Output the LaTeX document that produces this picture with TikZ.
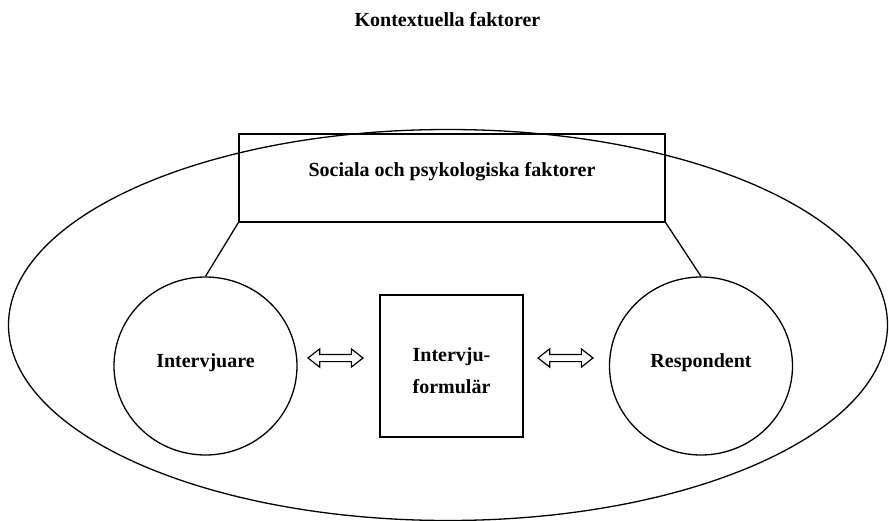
\documentclass[tikz,border=0pt]{standalone}
\usepackage{fontspec}
\setmainfont{Liberation Serif}
\usetikzlibrary{shapes.geometric,shapes.arrows}
\tikzset{
  ln/.style={line width=1.3pt},
  lbl/.style={font=\bfseries\fontsize{20}{24}\selectfont, inner sep=0pt, anchor=base},
  roundbox/.style={ln, draw, ellipse, inner sep=0pt, minimum width=183pt, minimum height=178pt},
  boxnode/.style={ln, draw, rectangle, inner sep=0pt},
  darrow/.style={line width=1.2pt, draw, double arrow, inner sep=0pt, minimum height=55pt,
                 text height=6pt, text depth=0pt, text width=0pt,
                 double arrow head extend=5.5pt, double arrow head indent=0pt,
                 double arrow tip angle=76}
}
\begin{document}
\begin{tikzpicture}[x=1pt,y=-1pt]
\useasboundingbox (0,0) rectangle (889,521);
% context ellipse
\node[ln, draw, ellipse, inner sep=0pt, minimum width=879pt, minimum height=391pt] (ctx) at (448,325) {};
\node[lbl] (title) at (447.5,27) {Kontextuella faktorer};
% social box
\node[boxnode, minimum width=426pt, minimum height=88pt] (soc) at (452,178) {};
\node[lbl] (soctext) at (452,177) {Sociala och psykologiska faktorer};
% circles
\node[roundbox] (int) at (205.5,366) {};
\node[lbl] (inttext) at (205.5,367) {Intervjuare};
\node[roundbox] (resp) at (701,366) {};
\node[lbl] (resptext) at (701,367) {Respondent};
% form square
\node[boxnode, minimum width=143pt, minimum height=142pt] (form) at (451.5,366) {};
\node[lbl] (formtext1) at (451.5,362) {Intervju-};
\node[lbl] (formtext2) at (451.5,393) {formulär};
% arrows
\node[darrow] (a1) at (335.5,358) {};
\node[darrow] (a2) at (565.5,358) {};
% connectors
\draw[ln] (soc.south west) -- (int.north);
\draw[ln] (soc.south east) -- (resp.north);
\end{tikzpicture}
\end{document}
